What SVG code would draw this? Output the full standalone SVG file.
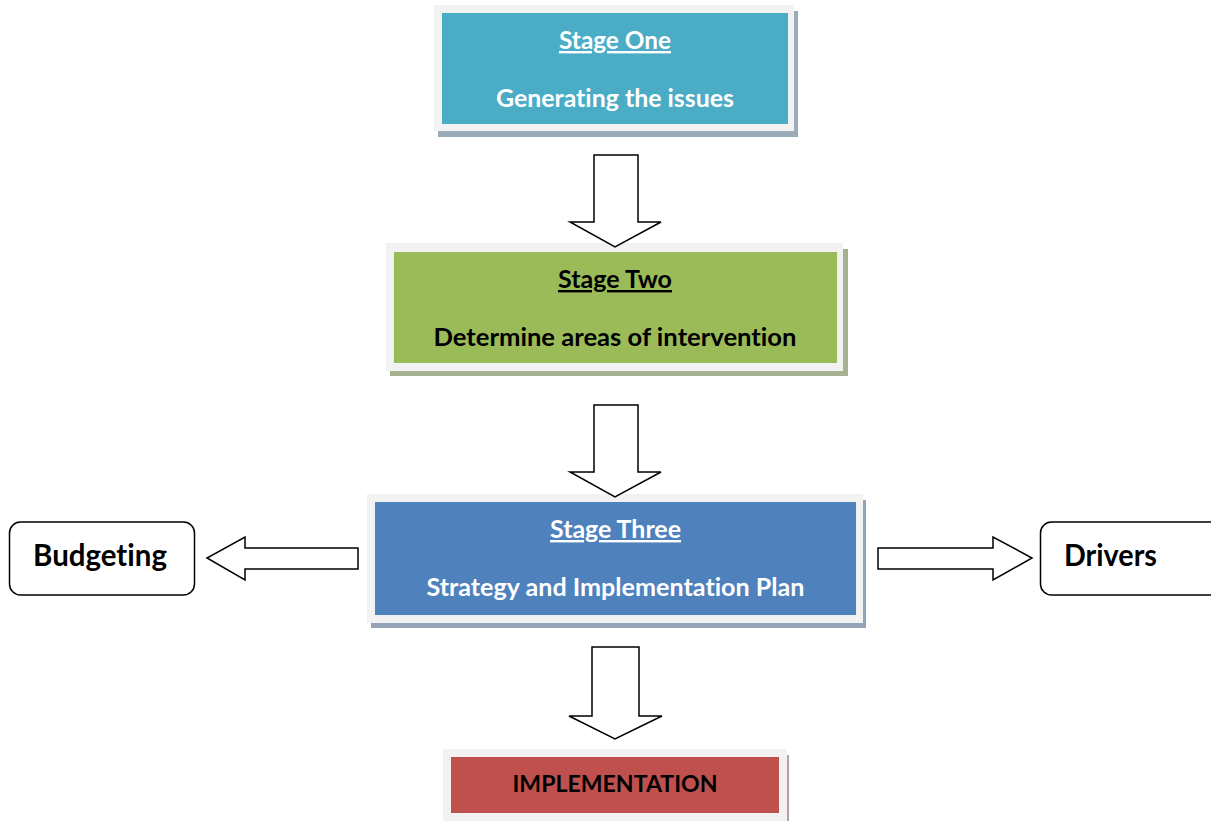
<svg xmlns="http://www.w3.org/2000/svg" width="1211" height="821" viewBox="0 0 1211 821">
<style>
.frame{fill:#f2f2f2}
.lbl{font-family:Lato,"Liberation Sans",sans-serif;font-weight:bold;text-anchor:middle;font-variant-ligatures:none;font-feature-settings:"liga" 0,"clig" 0}
.w{fill:#ffffff}
.k{fill:#000000}
.ul{text-decoration:underline}
.arrow{fill:#ffffff;stroke:#000000;stroke-width:1.5;stroke-linejoin:miter}
.side{fill:#ffffff;stroke:#000000;stroke-width:1.5}
</style>
<rect width="1211" height="821" fill="#ffffff"/>
<g id="stage-one">
<rect x="438" y="11" width="360" height="126" fill="#9aacb8"/>
<rect class="frame" x="434" y="5" width="360" height="126"/>
<rect x="442" y="13" width="346" height="111" fill="#4bacc6"/>
<text class="lbl w ul" x="615" y="49" font-size="24" textLength="112" lengthAdjust="spacingAndGlyphs">Stage One</text>
<text class="lbl w" x="615" y="107" font-size="24" textLength="238" lengthAdjust="spacingAndGlyphs">Generating the issues</text>
</g>
<g id="stage-two">
<rect x="390" y="249" width="458" height="127" fill="#a6b192"/>
<rect class="frame" x="386" y="243" width="457" height="128"/>
<rect x="394" y="252" width="443" height="111" fill="#9bbb59"/>
<text class="lbl k ul" x="615" y="288" font-size="24" textLength="114" lengthAdjust="spacingAndGlyphs">Stage Two</text>
<text class="lbl k" x="615" y="346" font-size="24" textLength="363" lengthAdjust="spacingAndGlyphs">Determine areas of intervention</text>
</g>
<g id="stage-three">
<rect x="371" y="500" width="495" height="128" fill="#95a3b8"/>
<rect class="frame" x="367" y="494" width="496" height="129"/>
<rect x="375" y="502" width="481" height="113" fill="#4f81bd"/>
<text class="lbl w ul" x="615.5" y="538" font-size="24" textLength="131" lengthAdjust="spacingAndGlyphs">Stage Three</text>
<text class="lbl w" x="615.5" y="596" font-size="24" textLength="378" lengthAdjust="spacingAndGlyphs">Strategy and Implementation Plan</text>
</g>
<g id="implementation">
<rect x="447" y="755" width="342" height="70" fill="#b9a0a0"/>
<rect class="frame" x="443" y="749" width="344" height="76"/>
<rect x="451" y="757" width="328" height="56" fill="#c0504d"/>
<text class="lbl k" x="615" y="792" font-size="22" textLength="205" lengthAdjust="spacingAndGlyphs">IMPLEMENTATION</text>
</g>
<g id="budgeting">
<rect class="side" x="9.5" y="522" width="185" height="73" rx="11" ry="11"/>
<text class="lbl k" x="100" y="566" font-size="31" textLength="134" lengthAdjust="spacingAndGlyphs">Budgeting</text>
</g>
<g id="drivers">
<rect class="side" x="1040.5" y="522" width="190" height="73" rx="11" ry="11"/>
<text class="lbl k" x="1110.5" y="566" font-size="31" textLength="93" lengthAdjust="spacingAndGlyphs">Drivers</text>
</g>
<g id="connectors">
<polygon class="arrow" points="594,155 638,155 638,222 661,222 615,247 570,222 594,222"/>
<polygon class="arrow" points="594,405 638,405 638,472 661,472 615,497 570,472 594,472"/>
<polygon class="arrow" points="592,647 639,647 639,716 662,716 615,739 569,716 592,716"/>
<polygon class="arrow" points="358,548 245,548 245,537 207,558 245,580 245,569 358,569"/>
<polygon class="arrow" points="878,548 993,548 993,537 1032,558 993,580 993,569 878,569"/>
</g>
</svg>
